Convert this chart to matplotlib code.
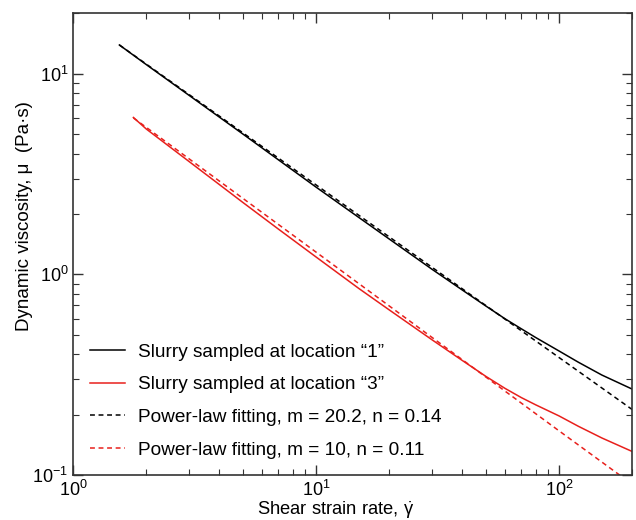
import matplotlib
matplotlib.use("Agg")
import matplotlib.pyplot as plt

plt.rcParams['font.family'] = ['Liberation Sans', 'DejaVu Sans']
plt.rcParams['mathtext.fontset'] = 'custom'
plt.rcParams['mathtext.rm'] = 'Liberation Sans'
plt.rcParams['mathtext.it'] = 'Liberation Sans:italic'

# Slurry sampled at location "1"
rate_1 = [1.55, 2, 3, 5, 7, 10, 15, 20, 30, 40, 50, 60, 70, 80, 100, 120, 150, 200]
visc_1 = [13.9, 11.1, 7.8, 5.0, 3.72, 2.72, 1.92, 1.50, 1.06, 0.835, 0.695, 0.60,
          0.535, 0.485, 0.415, 0.365, 0.315, 0.268]

# Slurry sampled at location "3"
rate_3 = [1.77, 2, 3, 5, 7, 10, 15, 20, 30, 40, 50, 60, 70, 80, 100, 120, 150, 200]
visc_3 = [6.05, 5.3, 3.65, 2.28, 1.68, 1.22, 0.85, 0.665, 0.472, 0.372, 0.31, 0.27,
          0.243, 0.224, 0.197, 0.175, 0.153, 0.131]

# power-law fitting lines
fit_rate_1 = [1.55, 10, 100, 200]
fit_visc_1 = [13.9, 2.79, 0.385, 0.212]
fit_rate_3 = [1.77, 10, 100, 200]
fit_visc_3 = [6.02, 1.29, 0.166, 0.090]

labels = ['Slurry sampled at location \u201c1\u201d',
          'Slurry sampled at location \u201c3\u201d',
          'Power-law fitting, m = 20.2, n = 0.14',
          'Power-law fitting, m = 10, n = 0.11']

red = '#e8201c'
dash = (0, (3.2, 2.4))

fig = plt.figure(figsize=(6.36, 5.2), dpi=100)
ax = fig.add_axes([0.115, 0.0865, 0.879, 0.888])

ax.plot(rate_1, visc_1, color='black', lw=1.1, label=labels[0])
ax.plot(rate_3, visc_3, color=red, lw=1.1, label=labels[1])
ax.plot(fit_rate_1, fit_visc_1, color='black', lw=1.1, ls=dash, label=labels[2])
ax.plot(fit_rate_3, fit_visc_3, color=red, lw=1.1, ls=dash, label=labels[3])

ax.set_xscale('log')
ax.set_yscale('log')
ax.set_xlim(1, 200)
ax.set_ylim(0.1, 20)

ax.set_xlabel('Shear strain rate, $\\dot{\\mathrm{\\gamma}}$', fontsize=13.2)
ax.set_ylabel('Dynamic viscosity, \u03bc  (Pa\u00b7s)', fontsize=13.5)
ax.xaxis.set_label_coords(0.469, -0.054)
ax.yaxis.set_label_coords(-0.072, 0.56)

for s in ax.spines.values():
    s.set_color('#333333')
    s.set_linewidth(1.2)
ax.tick_params(which='both', direction='in', top=True, right=True, color='#333333')
ax.tick_params(which='major', length=7, width=1, labelsize=13, pad=3.5)
ax.tick_params(which='minor', length=4, width=0.8)

ax.legend(loc='lower left', frameon=False, fontsize=13.7, handlelength=1.84,
          handletextpad=0.68, labelspacing=0.81, borderpad=0, borderaxespad=0,
          bbox_to_anchor=(0.030, 0.035))

fig.savefig('out.png', dpi=100)
